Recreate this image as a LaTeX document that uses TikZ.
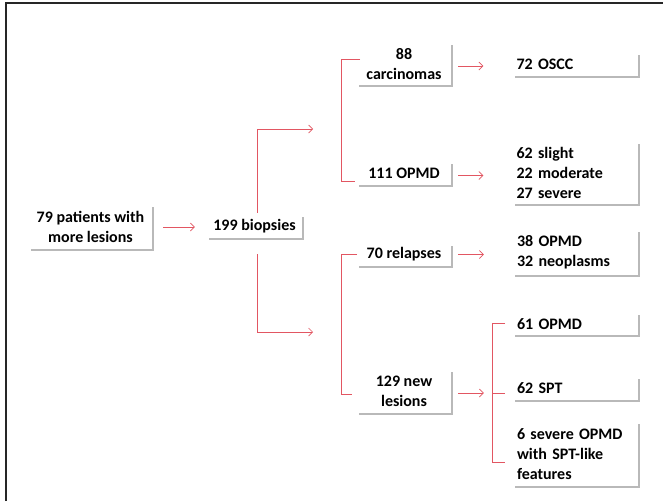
\documentclass[tikz,border=0pt]{standalone}
\usepackage{fontspec}
\setmainfont{Carlito}
\usetikzlibrary{arrows.meta,shadows,calc}
\definecolor{linered}{RGB}{226,86,98}
\begin{document}
\begin{tikzpicture}[x=1pt,y=-1pt,
  box/.style={rectangle, fill=white, inner xsep=4pt, inner ysep=0pt,
    font=\fontsize{16}{20}\selectfont\bfseries,
    drop shadow={shadow xshift=2.2pt, shadow yshift=-2.2pt, fill=black!30, opacity=0.9}},
  cbox/.style={box, align=center},
  lbox/.style={box, text width=117pt, align=left, minimum height=#1},
  ln/.style={draw=linered, line width=0.7pt},
  arr/.style={ln, -{Straight Barb[length=4pt,width=8pt]}}]
\useasboundingbox (0,0) rectangle (663,501);
\fill[white] (0,0) rectangle (663,501);
\draw[line width=1.4pt, black!85] (6,501) -- (6,3) -- (663,3);

% nodes
\node[cbox, minimum width=123pt, minimum height=44pt] (P) at (90.5,227) {79 patients with\\more lesions};
\node[cbox, minimum width=95pt, minimum height=23pt] (B) at (254.5,226.5) {199 biopsies};
\node[cbox, minimum width=94pt, minimum height=42pt] (C88) at (404,64) {88\\carcinomas};
\node[cbox, minimum width=94pt, minimum height=23pt] (O111) at (404,173.5) {111 OPMD};
\node[cbox, minimum width=94pt, minimum height=22pt] (R70) at (404,254.5) {70 relapses};
\node[cbox, minimum width=94pt, minimum height=43pt] (N129) at (404,391.5) {129 new\\lesions};
\node[lbox=23pt] (OSCC) at (575,64.5) {72 OSCC};
\node[lbox=62pt] (SL) at (575,173) {62 slight\\22 moderate\\27 severe};
\node[lbox=45pt] (O38) at (575.5,252.5) {38 OPMD\\32 neoplasms};
\node[lbox=22pt] (O61) at (575.5,324) {61 OPMD};
\node[lbox=23pt] (SPT) at (575.5,388.5) {62 SPT};
\node[lbox=64pt] (SEV) at (575.5,454) {6 severe OPMD\\with SPT-like\\features};

% connectors
\draw[arr] ([xshift=11pt]P.east) -- ([xshift=-12pt]P.east -| B.west);
\coordinate (u1) at (313,129);
\coordinate (d1) at (313,332);
\draw[arr] ([xshift=2.5pt,yshift=2pt]B.north) |- (u1);
\draw[arr] ([xshift=2.5pt,yshift=-16pt]B.south) |- (d1);

\draw[arr] ([xshift=7pt,yshift=-2pt]C88.east) -- ([xshift=-29pt,yshift=-2pt]C88.east -| OSCC.west);
\draw[arr] ([xshift=7pt,yshift=-2pt]O111.east) -- ([xshift=-29pt,yshift=-2pt]O111.east -| SL.west);
\draw[arr] ([xshift=7pt]R70.east) -- ([xshift=-29pt]R70.east -| O38.west);
\draw[arr] ([xshift=7pt,yshift=-1.5pt]N129.east) -- ([xshift=-29pt,yshift=-1.5pt]N129.east -| SPT.west);

% brackets
\coordinate (t1) at (360,59);
\coordinate (t2) at (355,181);
\draw[ln] (t1) -- (341,59) -- (341,181) -- (t2);
\coordinate (t3) at (357,254);
\coordinate (t4) at (352,394);
\draw[ln] (t3) -- (341,254) -- (341,394) -- (t4);
\coordinate (t5) at (505,323);
\coordinate (t6) at (505,462);
\coordinate (t7) at (505,393);
\draw[ln] (t5) -- (492,323) -- (492,462) -- (t6);
\draw[ln] (492,393) -- (t7);
\end{tikzpicture}
\end{document}
